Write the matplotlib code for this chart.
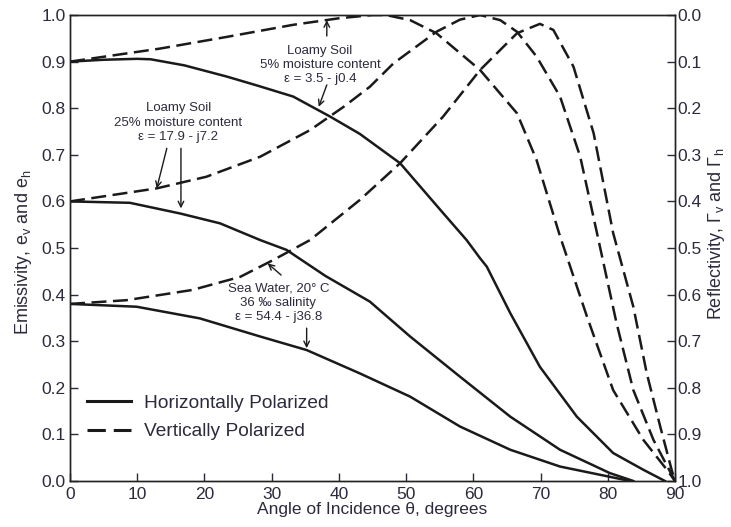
import matplotlib
matplotlib.use('Agg')
import matplotlib.pyplot as plt
from matplotlib.ticker import MultipleLocator, FormatStrFormatter

plt.rcParams['font.family'] = ['Liberation Sans', 'DejaVu Sans']
plt.rcParams['mathtext.fontset'] = 'custom'
plt.rcParams['mathtext.rm'] = 'Liberation Sans'

TEXT = '#2b2b3d'
LINE = '#1a1a1a'

# Horizontally polarized emissivity
h_dry_theta = [0, 5, 10, 12, 17, 23.3, 28, 33.2, 38.7, 43.1, 49.1, 55.5, 59, 61, 62, 65.5, 69.9, 75.4, 80.8, 85.3, 88.5]
h_dry_e = [0.90, 0.904, 0.906, 0.905, 0.892, 0.868, 0.848, 0.825, 0.782, 0.745, 0.682, 0.575, 0.517, 0.478, 0.46, 0.36, 0.245, 0.138, 0.06, 0.024, 0.0]

h_wet_theta = [0, 8.9, 16.4, 22.3, 28.3, 32.2, 38, 44.6, 50.6, 58, 65.5, 72.9, 80.3, 83.8]
h_wet_e = [0.60, 0.597, 0.574, 0.553, 0.517, 0.496, 0.44, 0.385, 0.31, 0.224, 0.138, 0.067, 0.017, 0.0]

h_sea_theta = [0, 9.9, 19.3, 28.3, 35.2, 43.1, 50.6, 58, 65.5, 72.9, 80.3, 83.3]
h_sea_e = [0.38, 0.374, 0.349, 0.31, 0.281, 0.231, 0.181, 0.117, 0.067, 0.031, 0.009, 0.0]

# Vertically polarized emissivity
v_dry_theta = [0, 13.4, 23.3, 33.2, 40, 45, 47, 50.6, 54.5, 61, 66.5, 69.4, 72.9, 76.9, 80.8, 85.3, 88.8, 90]
v_dry_e = [0.90, 0.928, 0.953, 0.979, 0.993, 1.0, 1.0, 0.989, 0.961, 0.882, 0.789, 0.689, 0.525, 0.353, 0.195, 0.088, 0.024, 0.0]

v_wet_theta = [0, 12.9, 20.3, 28.3, 35.7, 40.7, 44.6, 48.1, 54.5, 58, 61, 64, 66.5, 69.4, 72.9, 75.9, 78.5, 81.3, 83.8, 86.8, 90]
v_wet_e = [0.60, 0.628, 0.653, 0.696, 0.753, 0.803, 0.846, 0.896, 0.964, 0.99, 1.0, 0.989, 0.964, 0.911, 0.825, 0.696, 0.525, 0.339, 0.195, 0.088, 0.0]

v_sea_theta = [0, 8.4, 18.2, 25.3, 30.2, 35.7, 43.1, 49.1, 55.5, 61, 66.5, 69.9, 71.9, 74.9, 77.9, 80.8, 83.8, 85.8, 87.8, 89.5, 90]
v_sea_e = [0.38, 0.388, 0.41, 0.438, 0.474, 0.517, 0.603, 0.682, 0.782, 0.882, 0.961, 0.981, 0.968, 0.889, 0.746, 0.532, 0.374, 0.231, 0.117, 0.024, 0.0]

x_ticks = list(range(0, 91, 10))

fig = plt.figure(figsize=(7.31, 5.27), dpi=100)
ax = fig.add_axes([0.0958, 0.0873, 0.8276, 0.8842])

dash = (0, (6, 2.6))
for th, e in [(h_dry_theta, h_dry_e), (h_wet_theta, h_wet_e), (h_sea_theta, h_sea_e)]:
    ax.plot(th, e, color=LINE, lw=1.8, solid_joinstyle='round')
for th, e in [(v_dry_theta, v_dry_e), (v_wet_theta, v_wet_e), (v_sea_theta, v_sea_e)]:
    ax.plot(th, e, color=LINE, lw=1.8, linestyle=dash)

ax.set_xlim(0, 90)
ax.set_ylim(0, 1.0)
ax.set_xticks(x_ticks)
ax.yaxis.set_major_locator(MultipleLocator(0.1))
ax.yaxis.set_major_formatter(FormatStrFormatter('%.1f'))
ax.tick_params(direction='in', length=6, width=1, labelsize=12.5, colors=TEXT, pad=3)
ax.tick_params(axis='x', pad=4)
for s in ax.spines.values():
    s.set_linewidth(1.0)
    s.set_color('#222222')

ax.set_xlabel('Angle of Incidence θ, degrees', fontsize=12.5, color=TEXT, labelpad=0)
ax.set_ylabel(r'Emissivity, e$_\mathregular{v}$ and e$_\mathregular{h}$', fontsize=13, color=TEXT)
ax.yaxis.set_label_coords(-0.06, 0.49)

# Reflectivity = 1 - emissivity on the right
ax2 = ax.twinx()
ax2.set_ylim(1.0, 0.0)
ax2.yaxis.set_major_locator(MultipleLocator(0.1))
ax2.yaxis.set_major_formatter(FormatStrFormatter('%.1f'))
ax2.tick_params(direction='in', length=6, width=1, labelsize=12.5, colors=TEXT, pad=2)
for s in ax2.spines.values():
    s.set_linewidth(1.0)
    s.set_color('#222222')
ax2.set_ylabel(r'Reflectivity, Γ$_\mathregular{v}$ and Γ$_\mathregular{h}$', fontsize=13, color=TEXT)
ax2.yaxis.set_label_coords(1.052, 0.53)

# Curve labels
note = dict(fontsize=9.5, color=TEXT, ha='center', va='center', linespacing=1.25)
arrow = dict(arrowstyle='->', color=LINE, lw=1.0, shrinkA=0, shrinkB=0)

ax.text(37.2, 0.893, 'Loamy Soil\n5% moisture content\nε = 3.5 - j0.4', **note)
ax.annotate('', xy=(38.2, 0.989), xytext=(38.2, 0.955), arrowprops=arrow)
ax.annotate('', xy=(37.0, 0.803), xytext=(38.2, 0.85), arrowprops=arrow)

ax.text(16.1, 0.769, 'Loamy Soil\n25% moisture content\nε = 17.9 - j7.2', **note)
ax.annotate('', xy=(12.9, 0.628), xytext=(14.4, 0.714), arrowprops=arrow)
ax.annotate('', xy=(16.5, 0.585), xytext=(16.5, 0.714), arrowprops=arrow)

ax.text(31.0, 0.383, 'Sea Water, 20° C\n36 ‰ salinity\nε = 54.4 - j36.8', **note)
ax.annotate('', xy=(29.4, 0.467), xytext=(31.4, 0.442), arrowprops=arrow)
ax.annotate('', xy=(35.2, 0.285), xytext=(35.2, 0.328), arrowprops=arrow)

# Legend
ax.plot([], [], color=LINE, lw=2.2, label='Horizontally Polarized')
ax.plot([], [], color=LINE, lw=2.2, linestyle=dash, label='Vertically Polarized')
handles, labels = ax.get_legend_handles_labels()
leg = ax.legend(handles, labels, loc='lower left', bbox_to_anchor=(0.0, 0.05),
                frameon=False, fontsize=13.8, handlelength=2.3, handletextpad=0.65,
                labelspacing=0.6)
for t in leg.get_texts():
    t.set_color(TEXT)

fig.savefig('out.png', dpi=100)
